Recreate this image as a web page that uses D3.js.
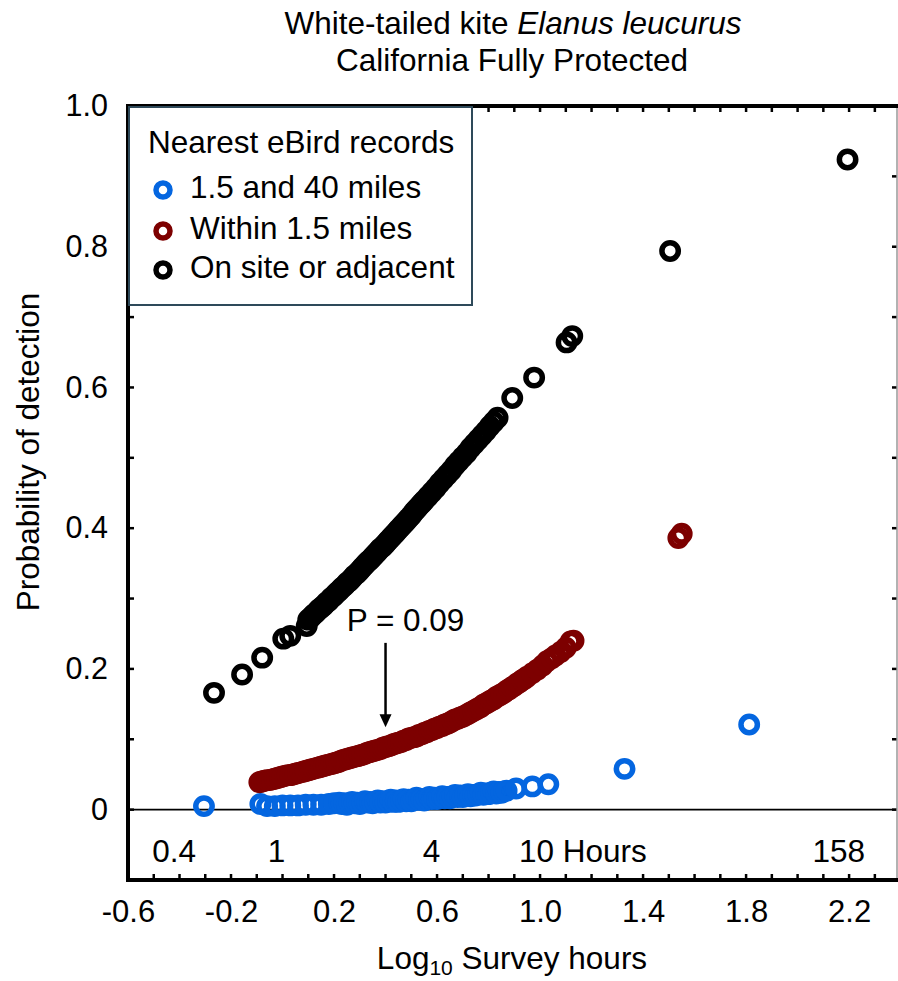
<!DOCTYPE html>
<html><head><meta charset="utf-8">
<script src="https://cdn.jsdelivr.net/npm/d3@7"></script>
<style>body{margin:0;background:#fff}svg{display:block}</style>
</head><body><svg id="c" width="898" height="981"></svg>
<script>
// ---------- data ----------
const titleMain = "White-tailed kite ";
const titleItalic = "Elanus leucurus";
const titleLine2 = "California Fully Protected";
const yAxisTitle = "Probability of detection";
const xAxisTitle = ["Log", "10", " Survey hours"];
const legendTitle = "Nearest eBird records";
const seriesNames = ["1.5 and 40 miles", "Within 1.5 miles", "On site or adjacent"];
const seriesColors = ["#0466e0", "#7d0000", "#000000"];

const xTickValues = [-0.6, -0.2, 0.2, 0.6, 1.0, 1.4, 1.8, 2.2];
const xTickLabels = ["-0.6", "-0.2", "0.2", "0.6", "1.0", "1.4", "1.8", "2.2"];
const yTickValues = [0, 0.2, 0.4, 0.6, 0.8, 1.0];
const yTickLabels = ["0", "0.2", "0.4", "0.6", "0.8", "1.0"];
const hourValues = [0.4, 1, 4, 10, 158];
const hourLabels = ["0.4", "1", "4", "10 Hours", "158"];

const annotationText = "P = 0.09";
const annotationX = 0.4;
const annotationFrom = 0.237;
const annotationTo = 0.117;

// 1.5 and 40 miles (blue): log10 hours, probability
const blueX = [-0.305, -0.086, -0.06, -0.03, 0.00, 0.03, 0.06, 0.09, 0.12, 0.15, 0.18, 0.20,
  0.22, 0.23, 0.24, 0.25, 0.26, 0.27, 0.28, 0.29, 0.30, 0.31, 0.32, 0.33, 0.34, 0.35, 0.36, 0.37, 0.38, 0.39,
  0.40, 0.41, 0.42, 0.43, 0.44, 0.45, 0.46, 0.47, 0.48, 0.49, 0.50, 0.51, 0.52, 0.53, 0.54, 0.55, 0.56, 0.57,
  0.58, 0.59, 0.60, 0.61, 0.62, 0.63, 0.64, 0.65, 0.66, 0.67, 0.68, 0.69, 0.70, 0.71, 0.72, 0.73, 0.74, 0.75,
  0.76, 0.77, 0.78, 0.79, 0.80, 0.81, 0.82, 0.83, 0.84, 0.85, 0.86, 0.87,
  0.907, 0.970, 1.032, 1.328, 1.812];
const blueY = [0.005, 0.008, 0.005, 0.005, 0.006, 0.006, 0.006, 0.007, 0.007, 0.007, 0.008, 0.009,
  0.010, 0.008, 0.009, 0.007, 0.009, 0.011, 0.009, 0.010, 0.008, 0.010, 0.012, 0.010, 0.011, 0.009, 0.011, 0.013, 0.010, 0.012,
  0.010, 0.012, 0.014, 0.011, 0.013, 0.011, 0.013, 0.015, 0.012, 0.014, 0.012, 0.014, 0.017, 0.014, 0.015, 0.013, 0.016, 0.018,
  0.015, 0.017, 0.015, 0.017, 0.019, 0.016, 0.018, 0.016, 0.019, 0.021, 0.018, 0.020, 0.018, 0.020, 0.022, 0.019, 0.021, 0.020,
  0.022, 0.024, 0.021, 0.023, 0.022, 0.024, 0.026, 0.023, 0.025, 0.024, 0.026, 0.027,
  0.030, 0.033, 0.036, 0.058, 0.121];

// Within 1.5 miles (dark red)
const redX = [-0.09, -0.08, -0.07, -0.06, -0.05, -0.04, -0.03, -0.02, -0.01, 0.00, 0.01, 0.02, 0.03, 0.04, 0.05, 0.06, 0.07, 0.08, 0.09,
  0.10, 0.11, 0.12, 0.13, 0.14, 0.15, 0.16, 0.17, 0.18, 0.19, 0.20, 0.21, 0.22, 0.23, 0.24, 0.25, 0.26, 0.27, 0.28, 0.29,
  0.30, 0.31, 0.32, 0.33, 0.34, 0.35, 0.36, 0.37, 0.38, 0.39, 0.40, 0.41, 0.42, 0.43, 0.44, 0.45, 0.46, 0.47, 0.48, 0.49,
  0.50, 0.51, 0.52, 0.53, 0.54, 0.55, 0.56, 0.57, 0.58, 0.59, 0.60, 0.61, 0.62, 0.63, 0.64, 0.65, 0.66, 0.67, 0.68, 0.69,
  0.70, 0.71, 0.72, 0.73, 0.74, 0.75, 0.76, 0.77, 0.78, 0.79, 0.80, 0.81, 0.82, 0.83, 0.84, 0.85, 0.86, 0.87, 0.88, 0.89,
  0.90, 0.91, 0.92, 0.93, 0.94, 0.95, 0.97, 0.99, 1.01, 1.027, 1.045, 1.06, 1.08, 1.10, 1.119, 1.13, 1.537, 1.55];
const redY = [0.039, 0.040, 0.041, 0.042, 0.042, 0.043, 0.044, 0.045, 0.046, 0.047, 0.048, 0.049, 0.049, 0.050, 0.051, 0.052, 0.053, 0.054, 0.055,
  0.056, 0.057, 0.058, 0.059, 0.060, 0.061, 0.062, 0.063, 0.064, 0.065, 0.066, 0.067, 0.068, 0.070, 0.071, 0.072, 0.073, 0.074, 0.075, 0.076,
  0.077, 0.078, 0.079, 0.081, 0.082, 0.083, 0.084, 0.085, 0.086, 0.088, 0.089, 0.090, 0.091, 0.093, 0.094, 0.095, 0.096, 0.098, 0.099, 0.101,
  0.102, 0.103, 0.104, 0.106, 0.107, 0.109, 0.110, 0.112, 0.113, 0.115, 0.116, 0.118, 0.119, 0.121, 0.122, 0.124, 0.126, 0.128, 0.129, 0.131,
  0.132, 0.134, 0.136, 0.138, 0.140, 0.142, 0.144, 0.146, 0.149, 0.151, 0.153, 0.155, 0.157, 0.160, 0.162, 0.164, 0.166, 0.169, 0.171, 0.174,
  0.176, 0.179, 0.181, 0.184, 0.186, 0.189, 0.194, 0.199, 0.205, 0.211, 0.215, 0.219, 0.224, 0.230, 0.239, 0.240, 0.386, 0.392];

// On site or adjacent (black)
const blackX = [-0.266, -0.157, -0.079, 0.003, 0.030, 0.094,
  0.10, 0.11, 0.12, 0.13, 0.14, 0.15, 0.16, 0.17, 0.18, 0.19, 0.20, 0.21, 0.22, 0.23, 0.24, 0.25, 0.26, 0.27, 0.28, 0.29,
  0.30, 0.31, 0.32, 0.33, 0.34, 0.35, 0.36, 0.37, 0.38, 0.39, 0.40, 0.41, 0.42, 0.43, 0.44, 0.45, 0.46, 0.47, 0.48, 0.49,
  0.50, 0.51, 0.52, 0.53, 0.54, 0.55, 0.565, 0.58, 0.595, 0.61, 0.625, 0.64, 0.655, 0.67, 0.685, 0.70, 0.715, 0.73,
  0.745, 0.76, 0.775, 0.79, 0.805, 0.82, 0.835, 0.892, 0.977, 1.103, 1.125, 1.505, 2.194];
const blackY = [0.166, 0.192, 0.216, 0.243, 0.247, 0.261,
  0.270, 0.273, 0.277, 0.280, 0.284, 0.287, 0.290, 0.294, 0.297, 0.301, 0.304, 0.308, 0.311, 0.315, 0.318, 0.322, 0.325, 0.329, 0.333, 0.336,
  0.340, 0.344, 0.348, 0.352, 0.355, 0.359, 0.363, 0.367, 0.371, 0.374, 0.378, 0.382, 0.386, 0.390, 0.394, 0.398, 0.402, 0.406, 0.410, 0.414,
  0.418, 0.423, 0.427, 0.431, 0.435, 0.439, 0.445, 0.451, 0.457, 0.464, 0.470, 0.476, 0.482, 0.489, 0.495, 0.501, 0.507, 0.514,
  0.520, 0.526, 0.532, 0.538, 0.545, 0.551, 0.557, 0.585, 0.614, 0.664, 0.673, 0.794, 0.924];

// ---------- chart ----------
(function () {
const FONT = "'Liberation Sans', Arial, sans-serif";
const FS = 31.5;
const svg = d3.select("#c");
const pL = 128, pR = 897, pT = 106, pB = 880;
const x = d3.scaleLinear().domain([-0.6, 2.386]).range([pL, pR]);
const y = d3.scaleLinear().domain([-0.1, 1.0]).range([pB, pT]);

svg.append("rect").attr("width", 898).attr("height", 981).attr("fill", "#fff");

// titles
const t1 = svg.append("text").attr("x", 513).attr("y", 34).attr("text-anchor", "middle")
  .attr("font-family", FONT).attr("font-size", FS).attr("fill", "#000");
t1.append("tspan").text(titleMain);
t1.append("tspan").attr("font-style", "italic").text(titleItalic);
svg.append("text").attr("x", 512).attr("y", 71).attr("text-anchor", "middle")
  .attr("font-family", FONT).attr("font-size", FS).text(titleLine2);

// zero line
svg.append("line").attr("x1", pL).attr("x2", pR).attr("y1", y(0)).attr("y2", y(0))
  .attr("stroke", "#000").attr("stroke-width", 1.8);

// minor ticks on all frame sides (inward)
const xMinor = d3.range(-5, 24).map(i => i / 10);
const yMinor = d3.range(0, 11).map(i => i / 10);
const tickG = svg.append("g").attr("stroke", "#000").attr("stroke-width", 2.5);
tickG.selectAll(".tt").data(xMinor).join("line").attr("class", "tt")
  .attr("x1", d => x(d)).attr("x2", d => x(d)).attr("y1", pT).attr("y2", pT + 6);
tickG.selectAll(".tb").data(xMinor).join("line").attr("class", "tb")
  .attr("x1", d => x(d)).attr("x2", d => x(d)).attr("y1", pB).attr("y2", pB - 6);
tickG.selectAll(".tl").data(yMinor).join("line").attr("class", "tl")
  .attr("x1", pL).attr("x2", pL + 6).attr("y1", d => y(d)).attr("y2", d => y(d));
tickG.selectAll(".tr").data(yMinor).join("line").attr("class", "tr")
  .attr("x1", pR).attr("x2", pR - 5).attr("y1", d => y(d)).attr("y2", d => y(d));

// frame
svg.append("line").attr("x1", pR).attr("x2", pR).attr("y1", pT).attr("y2", pB)
  .attr("stroke", "#999").attr("stroke-width", 1.5);
svg.append("line").attr("x1", pL - 2).attr("x2", pR + 1).attr("y1", pT).attr("y2", pT)
  .attr("stroke", "#000").attr("stroke-width", 4);
svg.append("line").attr("x1", pL - 2).attr("x2", pR + 1).attr("y1", pB).attr("y2", pB)
  .attr("stroke", "#000").attr("stroke-width", 4);
svg.append("line").attr("x1", pL).attr("x2", pL).attr("y1", pT - 2).attr("y2", pB + 2)
  .attr("stroke", "#000").attr("stroke-width", 4);

// axes labels via d3 axes
const xAxis = d3.axisBottom(x).tickValues(xTickValues)
  .tickFormat((d, i) => xTickLabels[i]).tickSize(0).tickPadding(18);
const gx = svg.append("g").attr("transform", `translate(0,${pB + 2})`).call(xAxis);
gx.select(".domain").remove();
gx.selectAll("text").attr("font-family", FONT).attr("font-size", 31).attr("fill", "#000");

const yAxis = d3.axisLeft(y).tickValues(yTickValues)
  .tickFormat((d, i) => yTickLabels[i]).tickSize(0).tickPadding(20);
const gy = svg.append("g").attr("transform", `translate(${pL},0)`).call(yAxis);
gy.select(".domain").remove();
gy.selectAll("text").attr("font-family", FONT).attr("font-size", 30.5).attr("fill", "#000");

// hour labels inside bottom strip
svg.append("g").selectAll("text").data(hourValues).join("text")
  .attr("x", d => x(Math.log10(d))).attr("y", y(-0.075))
  .attr("text-anchor", (d, i) => i === 3 ? "start" : "middle")
  .attr("dx", (d, i) => i === 3 ? -21 : (i === 4 ? -10 : -6))
  .attr("font-family", FONT).attr("font-size", FS)
  .text((d, i) => hourLabels[i]);

// axis titles
svg.append("text").attr("transform", `translate(39,452) rotate(-90)`)
  .attr("text-anchor", "middle").attr("font-family", FONT).attr("font-size", FS)
  .text(yAxisTitle);
const xt = svg.append("text").attr("x", 512).attr("y", 969).attr("text-anchor", "middle")
  .attr("font-family", FONT).attr("font-size", FS);
xt.append("tspan").text(xAxisTitle[0]);
xt.append("tspan").attr("font-size", 21).attr("dy", 6).text(xAxisTitle[1]);
xt.append("tspan").attr("dy", -6).text(xAxisTitle[2]);

// points
const series = [
  {xs: blueX, ys: blueY, c: seriesColors[0]},
  {xs: redX, ys: redY, c: seriesColors[1]},
  {xs: blackX, ys: blackY, c: seriesColors[2]}
];
series.forEach(s => {
  svg.append("g").selectAll("circle").data(s.xs.map((v, i) => [v, s.ys[i]])).join("circle")
    .attr("cx", d => x(d[0])).attr("cy", d => y(d[1])).attr("r", 8.2)
    .attr("fill", "none").attr("stroke", s.c).attr("stroke-width", 5.5);
});

// annotation
const ax = x(annotationX);
svg.append("line").attr("x1", ax).attr("x2", ax).attr("y1", y(annotationFrom)).attr("y2", y(annotationTo) - 10)
  .attr("stroke", "#000").attr("stroke-width", 2.5);
svg.append("path")
  .attr("d", `M${ax - 6},${y(annotationTo) - 13} L${ax + 6},${y(annotationTo) - 13} L${ax},${y(annotationTo)} Z`)
  .attr("fill", "#000");
svg.append("text").attr("x", ax + 20).attr("y", y(annotationFrom) - 12).attr("text-anchor", "middle")
  .attr("font-family", FONT).attr("font-size", FS).text(annotationText);

// legend
const lg = svg.append("g");
lg.append("rect").attr("x", 129).attr("y", 107).attr("width", 343).attr("height", 198)
  .attr("fill", "#fff").attr("stroke", "#2e4a5a").attr("stroke-width", 2);
lg.append("text").attr("x", 148).attr("y", 153).attr("font-family", FONT).attr("font-size", FS)
  .text(legendTitle);
const rowY = [198, 239, 278];
seriesNames.forEach((n, i) => {
  lg.append("circle").attr("cx", 163).attr("cy", rowY[i] - 8).attr("r", 7)
    .attr("fill", "none").attr("stroke", seriesColors[i]).attr("stroke-width", 5.5);
  lg.append("text").attr("x", 190).attr("y", rowY[i]).attr("font-family", FONT).attr("font-size", FS)
    .text(n);
});
})();
</script>
</body></html>
